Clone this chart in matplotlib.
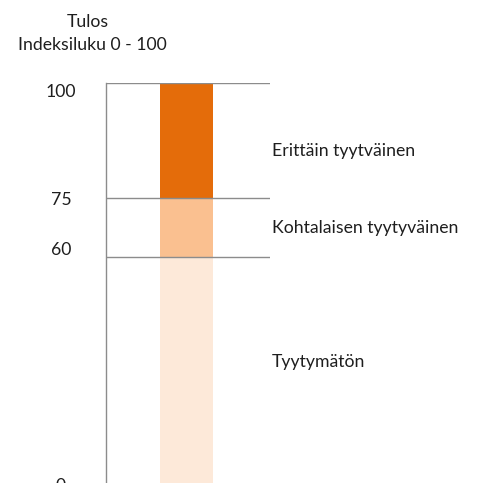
import numpy as np
import matplotlib
matplotlib.use("Agg")
import matplotlib.pyplot as plt
import matplotlib.transforms as mtransforms

# stacked segments of the index scale (bottom -> top)
levels = ["Tyytymätön", "Kohtalaisen tyytyväinen", "Erittäin tyytväinen"]
lower = [0, 60, 75]
upper = [60, 75, 100]
colors = ["#FDE9D9", "#FAC090", "#E46C0A"]
tick_values = [0, 60, 75, 100]
tick_labels = ["0", "60", "75", "100"]

# the original axis is not linear: stretch each band like the picture
scale_breaks = [0, 60, 75, 100]
scale_pos = [0, 233, 292, 407]


def forward(v):
    return np.interp(v, scale_breaks, scale_pos)


def inverse(p):
    return np.interp(p, scale_pos, scale_breaks)


plt.rcParams["font.family"] = ["Lato", "DejaVu Sans"]
FS = 12.7
TXT = "#1e1e1e"

W, H = 481, 483
fig = plt.figure(figsize=(W / 100, H / 100), dpi=100)
left, right, top, bottom = 106, 270, 83, 490
ax = fig.add_axes([left / W, 1 - bottom / H, (right - left) / W, (bottom - top) / H])

ax.set_yscale("function", functions=(forward, inverse))
ax.set_ylim(0, 100)
ax.set_xlim(-0.61, 0.63)

heights = [u - l for l, u in zip(lower, upper)]
ax.bar([0] * 3, heights, bottom=lower, width=0.4, color=colors, zorder=1)

for v in tick_values[1:]:
    ax.axhline(v, color="#8c8c8c", lw=1.0, zorder=2)

for s in ["top", "right", "bottom"]:
    ax.spines[s].set_visible(False)
ax.spines["left"].set_color("#8c8c8c")
ax.spines["left"].set_linewidth(1.0)
ax.set_xticks([])
ax.set_yticks([])
ax.yaxis.set_minor_locator(matplotlib.ticker.NullLocator())

# value labels on the left, nudged like the original
px_x = mtransforms.blended_transform_factory(mtransforms.IdentityTransform(), ax.transData)
label_nudge = [4, 7, -2, -9]
for v, t, dy in zip(tick_values, tick_labels, label_nudge):
    ax.annotate(t, xy=(61, v), xycoords=px_x, xytext=(0, dy), textcoords="offset pixels",
                ha="center", va="center", fontsize=FS, color=TXT, annotation_clip=False)

# band labels to the right of the column
mids = [(l + u) / 2 for l, u in zip(lower, upper)]
band_nudge = [12, 0, -10]
for name, m, dy in zip(levels, mids, band_nudge):
    ax.annotate(name, xy=(272, m), xycoords=px_x, xytext=(0, dy), textcoords="offset pixels",
                ha="left", va="center", fontsize=FS, color=TXT, annotation_clip=False)

fig.text(88 / W, 1 - 22 / H, "Tulos", ha="center", va="center", fontsize=FS, color=TXT)
fig.text(92 / W, 1 - 45 / H, "Indeksiluku 0 - 100", ha="center", va="center", fontsize=FS, color=TXT)

fig.savefig("out.png", dpi=100)
